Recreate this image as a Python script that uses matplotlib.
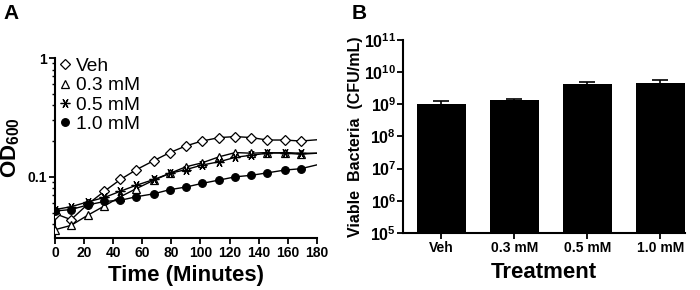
"""Growth curves (A) and viable counts (B) for vehicle and three doses."""

import matplotlib.pyplot as plt
from matplotlib.ticker import FixedLocator, LogLocator, NullFormatter

plt.rcParams["font.family"] = ["Liberation Sans", "DejaVu Sans"]
plt.rcParams["mathtext.fontset"] = "custom"
plt.rcParams["mathtext.rm"] = "Liberation Sans"
plt.rcParams["mathtext.bf"] = "Liberation Sans:bold"

# panel A: OD600 over time
time_min = [0, 11, 22.5, 34, 45, 56, 68, 79, 90, 101, 113, 124, 135, 146, 158, 169]
od_veh = [0.049, 0.0436, 0.0588, 0.0757, 0.095, 0.115, 0.137, 0.160,
          0.182, 0.200, 0.214, 0.218, 0.214, 0.204, 0.204, 0.200]
od_03 = [0.0359, 0.039, 0.0475, 0.0569, 0.068, 0.0797, 0.0937, 0.107,
         0.1215, 0.131, 0.1476, 0.160, 0.158, 0.160, 0.158, 0.155]
od_05 = [0.053, 0.056, 0.0615, 0.067, 0.0757, 0.085, 0.095, 0.107,
         0.115, 0.1255, 0.134, 0.146, 0.152, 0.158, 0.160, 0.158]
od_10 = [0.0516, 0.053, 0.058, 0.062, 0.0635, 0.068, 0.072, 0.078,
         0.082, 0.088, 0.094, 0.100, 0.103, 0.108, 0.114, 0.117]
# value of each fitted curve where it meets the right edge (t = 180)
fit_end_time = 180
fit_end = {"Veh": 0.205, "0.3 mM": 0.158, "0.5 mM": 0.158, "1.0 mM": 0.126}

# panel B: viable bacteria
treatments = ["Veh", "0.3 mM", "0.5 mM", "1.0 mM"]
cfu_mean = [1.05e9, 1.39e9, 4.35e9, 4.68e9]
cfu_err = [0.22e9, 0.11e9, 0.75e9, 1.12e9]
cfu_exponents = [5, 6, 7, 8, 9, 10, 11]

fig = plt.figure(figsize=(7, 2.9), dpi=100)
ax_a = fig.add_axes([0.0786, 0.179, 0.374, 0.621])
ax_b = fig.add_axes([0.576, 0.197, 0.403, 0.665])

series = [
    ("Veh", od_veh, dict(marker="D", mfc="white", ms=5)),
    ("0.3 mM", od_03, dict(marker="^", mfc="white", ms=5.5)),
    ("0.5 mM", od_05, dict(marker=(6, 2, 90), mfc="black", ms=7, mew=0.9)),
    ("1.0 mM", od_10, dict(marker="o", mfc="black", ms=5.5)),
]
for label, values, style in series:
    ax_a.plot(time_min + [fit_end_time], values + [fit_end[label]],
              color="black", lw=1.0, zorder=2)
    ax_a.plot(time_min, values, ls="none", color="black", mec="black",
              mew=style.pop("mew", 0.9), label=label, zorder=3, **style)

ax_a.set_yscale("log")
ax_a.set_xlim(0, 180)
ax_a.set_ylim(0.0305, 1)
ax_a.set_xticks(range(0, 181, 20))
ax_a.yaxis.set_major_locator(FixedLocator([0.1, 1]))
ax_a.yaxis.set_minor_locator(LogLocator(base=10, subs=range(2, 10)))
ax_a.yaxis.set_minor_formatter(NullFormatter())
ax_a.set_yticklabels(["0.1", "1"])
ax_a.set_xlabel("Time (Minutes)", fontsize=16, fontweight="bold", labelpad=3)
ax_a.set_ylabel(r"$\mathbf{OD_{600}}$", fontsize=16, labelpad=4)
leg = ax_a.legend(loc="upper left", bbox_to_anchor=(-0.01, 1.045), frameon=False,
                  fontsize=13.8, handlelength=0.5, handletextpad=0.35,
                  labelspacing=0.1, borderaxespad=0.0)

# panel B
positions = list(range(len(treatments)))
ax_b.bar(positions, cfu_mean, width=0.67, color="black", bottom=1e5,
         yerr=cfu_err, error_kw=dict(ecolor="black", capsize=6, lw=1.2,
                                     capthick=1.2),
         zorder=2)
ax_b.set_yscale("log")
ax_b.set_ylim(1e5, 1e11)
ax_b.set_xlim(-0.52, 3.34)
ax_b.set_xticks(positions)
ax_b.set_xticklabels(treatments)
ax_b.yaxis.set_major_locator(FixedLocator([10.0 ** e for e in cfu_exponents]))
ax_b.yaxis.set_minor_locator(FixedLocator([]))
ax_b.set_yticklabels([r"$\mathbf{10^{%d}}$" % e for e in cfu_exponents])
ax_b.set_xlabel("Treatment", fontsize=16, fontweight="bold", labelpad=5)
ax_b.set_ylabel("Viable  Bacteria  (CFU/mL)", fontsize=11.5,
                fontweight="bold", labelpad=1)

for ax in (ax_a, ax_b):
    for side in ("top", "right"):
        ax.spines[side].set_visible(False)
    for side in ("left", "bottom"):
        ax.spines[side].set_linewidth(1.5)
    ax.tick_params(which="major", length=4, width=1.3, labelsize=10, pad=2)
    ax.tick_params(which="minor", length=2.5, width=1.0)
    for lab in ax.get_xticklabels() + ax.get_yticklabels():
        lab.set_fontweight("bold")
ax_b.tick_params(axis="y", labelsize=11.5, pad=1)

fig.text(0.005, 0.985, "A", fontsize=15, fontweight="bold", va="top")
fig.text(0.502, 0.985, "B", fontsize=15, fontweight="bold", va="top")

fig.savefig("out.png", dpi=100)
